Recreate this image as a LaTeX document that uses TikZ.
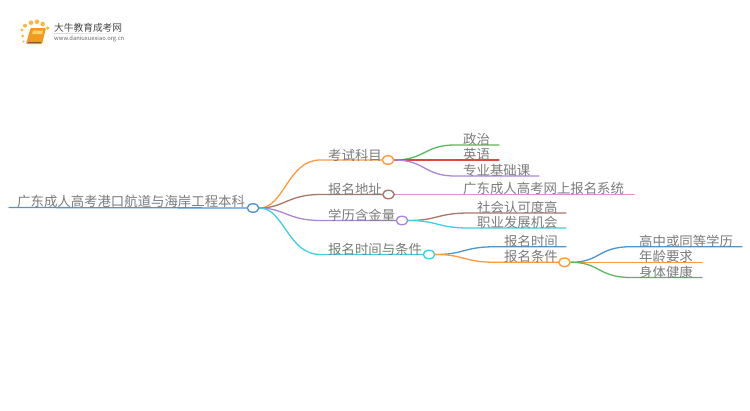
\documentclass[tikz,border=0pt]{standalone}
\usepackage{fontspec}
\usetikzlibrary{shapes.geometric,backgrounds}
\setmainfont{Noto Sans CJK SC}
\definecolor{cOrange}{HTML}{FF9A3C}
\definecolor{cBrown}{HTML}{A8776C}
\definecolor{cPurple}{HTML}{AB86D6}
\definecolor{cCyan}{HTML}{3ECFE0}
\definecolor{cBlue}{HTML}{4F95CE}
\definecolor{cGreen}{HTML}{5DB75D}
\definecolor{cRed}{HTML}{DE4545}
\definecolor{cPink}{HTML}{E68BD2}
\definecolor{cText}{HTML}{7C7C7C}
\definecolor{cDot}{HTML}{F8B93E}
\definecolor{cBook}{HTML}{F39A1E}
\definecolor{cPage}{HTML}{FBD36B}
\tikzset{
  lbl/.style={anchor=west,inner sep=0pt,text=cText,font=\fontsize{13.4}{14}\selectfont},
  hub/.style={ellipse,draw=#1,fill=white,line width=1.4pt,minimum width=11.5pt,minimum height=8.5pt,inner sep=0pt},
  conn/.style={draw=#1,line width=1.3pt,line cap=round},
  logodot/.style={fill=cDot,circle,inner sep=0pt,minimum size=#1},
}
\begin{document}
\begin{tikzpicture}[x=1pt,y=-1pt]
\useasboundingbox (0,0) rectangle (750,410);
\coordinate (aS) at (320,160);
\coordinate (bS) at (320,194.5);
\coordinate (cS) at (320,220.5);
\coordinate (dS) at (320,254.5);
\coordinate (rootL) at (9,207.5);
\coordinate (a1E) at (499,145);
\coordinate (a1S) at (455,145);
\coordinate (a2E) at (499,160);
\coordinate (a3E) at (539,176);
\coordinate (a3S) at (455,176);
\coordinate (b1E) at (634,194.5);
\coordinate (c1E) at (566,213);
\coordinate (c1S) at (469,213);
\coordinate (c2E) at (566,228);
\coordinate (c2S) at (469,228);
\coordinate (d1E) at (566,246.7);
\coordinate (d1S) at (496,246.7);
\coordinate (d2S) at (496,262.3);
\coordinate (e1E) at (742,246.7);
\coordinate (e1S) at (631,246.7);
\coordinate (e2E) at (702,262.3);
\coordinate (e3E) at (702,277.5);
\coordinate (e3S) at (631,277.5);
\node[hub=cBlue] (root) at (253,208) {};
\node[hub=cOrange] (a) at (388,160) {};
\node[hub=cBrown] (b) at (388.5,194.5) {};
\node[hub=cPurple] (c) at (402,220.5) {};
\node[hub=cCyan] (d) at (429,254.5) {};
\node[hub=cOrange] (e) at (564.5,262.3) {};
\begin{scope}[on background layer]
\fill[white] (0,0) rectangle (750,410);
\draw[conn=cBlue] (rootL) -- (root);
\draw[conn=cOrange] (root.east) .. controls (284,208) and (288,160) .. (aS) -- (a);
\draw[conn=cBrown] (root.east) .. controls (284,208) and (288,194.5) .. (bS) -- (b);
\draw[conn=cPurple] (root.east) .. controls (284,208) and (288,220.5) .. (cS) -- (c);
\draw[conn=cCyan] (root.east) .. controls (284,208) and (288,254.5) .. (dS) -- (d);
\draw[conn=cGreen] (a.east) .. controls (425,160) and (424,145) .. (a1S) -- (a1E);
\draw[conn=cRed] (a) -- (a2E);
\draw[conn=cPurple] (a.east) .. controls (425,160) and (424,176) .. (a3S) -- (a3E);
\draw[conn=cPink] (b) -- (b1E);
\draw[conn=cBrown] (c.east) .. controls (438,220.5) and (437,213) .. (c1S) -- (c1E);
\draw[conn=cCyan] (c.east) .. controls (438,220.5) and (437,228) .. (c2S) -- (c2E);
\draw[conn=cBlue] (d.east) .. controls (465,254.5) and (463,246.7) .. (d1S) -- (d1E);
\draw[conn=cOrange] (d.east) .. controls (465,254.5) and (463,262.3) .. (d2S) -- (e);
\draw[conn=cBlue] (e.east) .. controls (600,262.3) and (598,246.7) .. (e1S) -- (e1E);
\draw[conn=cOrange] (e) -- (e2E);
\draw[conn=cGreen] (e.east) .. controls (600,262.3) and (598,277.5) .. (e3S) -- (e3E);
\end{scope}
\node[lbl] (t0) at (17,201) {广东成人高考港口航道与海岸工程本科};
\node[lbl] (t1) at (328,155) {考试科目};
\node[lbl] (t2) at (328,189) {报名地址};
\node[lbl] (t3) at (328,215) {学历含金量};
\node[lbl] (t4) at (328,249) {报名时间与条件};
\node[lbl] (t5) at (463,139) {政治};
\node[lbl] (t6) at (463,154.5) {英语};
\node[lbl] (t7) at (463,170) {专业基础课};
\node[lbl] (t8) at (463,188) {广东成人高考网上报名系统};
\node[lbl] (t9) at (477,207) {社会认可度高};
\node[lbl] (t10) at (477,222) {职业发展机会};
\node[lbl] (t11) at (504,241) {报名时间};
\node[lbl] (t12) at (504,256.5) {报名条件};
\node[lbl] (t13) at (639,241) {高中或同等学历};
\node[lbl] (t14) at (639,256.5) {年龄要求};
\node[lbl] (t15) at (639,272) {身体健康};
% logo
\foreach \x/\y/\r in {22.7/36/3pt,22/30/3.4pt,25/25.7/4pt,31/22.7/4.6pt,37/21.7/4.6pt,42.7/24/4.6pt,47.7/28/3.6pt,23.5/41.5/2.4pt}
  \node[logodot=\r] at (\x,\y) {};
\path[fill=cBook,rounded corners=1pt] (30.5,28) -- (46,28) -- (42,44) -- (26,44) -- cycle;
\path[fill=cPage] (33,30.5) -- (43,30.5) -- (42.2,34) -- (32.2,34) -- cycle;
\draw[brown!70!black,line width=.5pt] (27.5,42) -- (41,42);
\node[anchor=west,inner sep=0pt,text=black!72,font=\fontsize{9.7}{10}\selectfont] (logoA) at (54,28) {大牛教育成考网};
\node[anchor=west,inner sep=0pt,text=black!60,font=\fontsize{5.8}{6}\selectfont] (logoB) at (54,39) {www.daniuxuexiao.org.cn};
\shade[left color=black!15,right color=white] (54,33.2) rectangle (132,33.8);
\end{tikzpicture}
\end{document}
